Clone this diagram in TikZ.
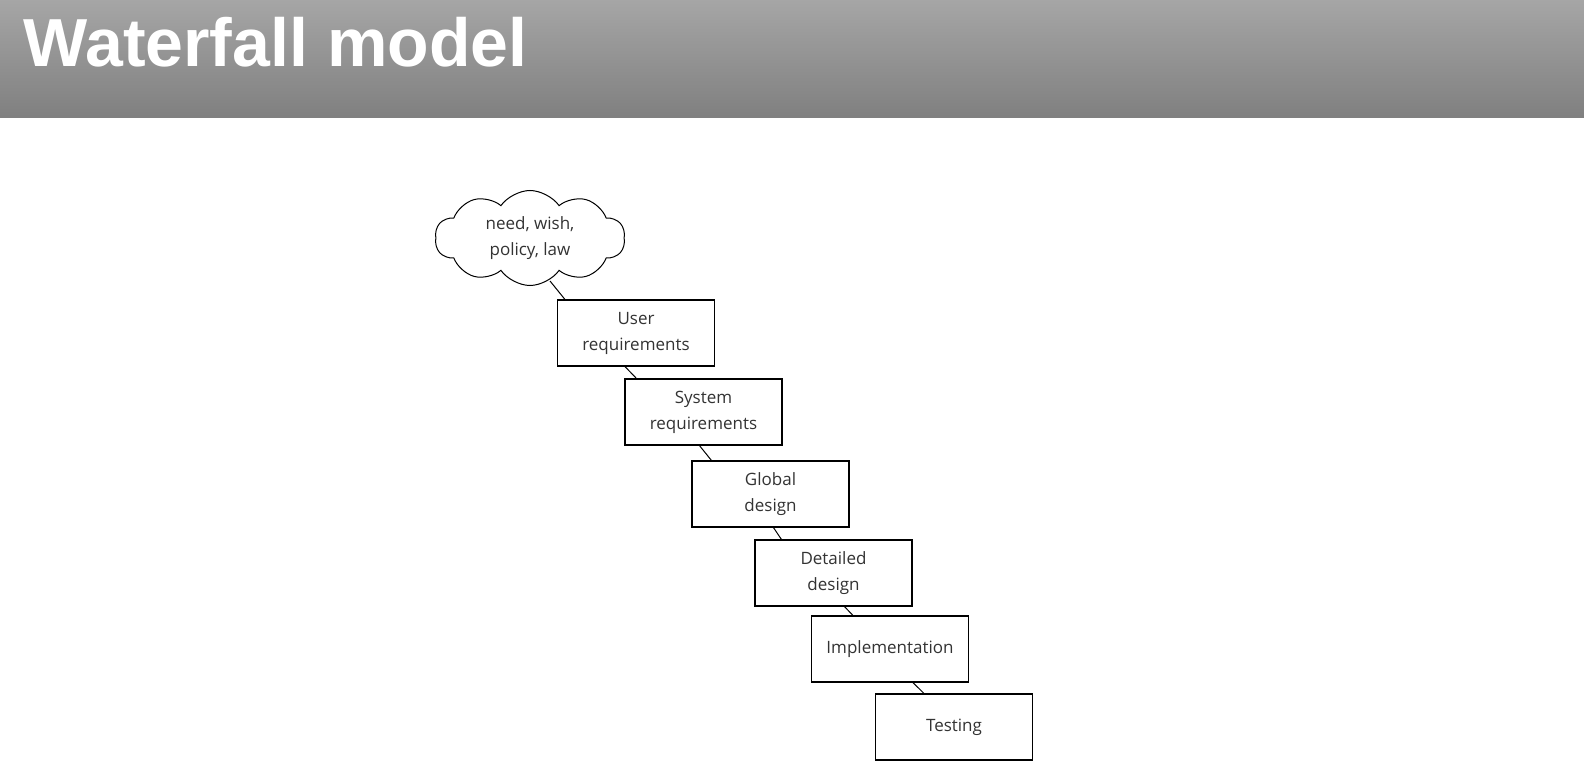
\documentclass[tikz,border=0pt]{standalone}
\usepackage{fontspec}
\setmainfont{Open Sans}
\newfontfamily\titlefont{Liberation Sans}
\usetikzlibrary{shapes.symbols}
\begin{document}
\begin{tikzpicture}[x=1pt,y=-1pt,
  phase/.style={draw, line width=1.1pt, minimum width=157pt, minimum height=66pt, align=center, font=\fontsize{17}{26}\selectfont, text=black!80},
  link/.style={line width=1pt}]
\useasboundingbox (0,0) rectangle (1584,783);
\fill[white] (0,0) rectangle (1584,783);
\shade[top color=black!35, bottom color=black!50] (0,0) rectangle (1584,118);
\node[anchor=west, text=white, font=\titlefont\bfseries\fontsize{68}{70}\selectfont] (title) at (20,42) {Waterfall model};
\node[cloud, cloud puffs=10, cloud puff arc=110, aspect=2.2, draw, line width=1pt, minimum width=190pt, minimum height=95pt, align=center, font=\fontsize{17}{26}\selectfont, text=black!80] (c) at (530,238) {need, wish,\\policy, law};
\node[phase] (u) at (636,333) {User\\requirements};
\node[phase] (s) at (703.5,412) {System\\requirements};
\node[phase] (g) at (770.5,494) {Global\\design};
\node[phase] (d) at (833.5,573) {Detailed\\design};
\node[phase] (i) at (890,649) {Implementation};
\node[phase] (t) at (954,727) {Testing};
\draw[link] (550,281) -- ([xshift=8pt]u.north west);
\draw[link] ([xshift=68pt]u.south west) -- ([xshift=12pt]s.north west);
\draw[link] ([xshift=75pt]s.south west) -- ([xshift=20pt]g.north west);
\draw[link] ([xshift=82pt]g.south west) -- ([xshift=27pt]d.north west);
\draw[link] ([xshift=90pt]d.south west) -- ([xshift=42pt]i.north west);
\draw[link] ([xshift=102pt]i.south west) -- ([xshift=49pt]t.north west);
\end{tikzpicture}
\end{document}
